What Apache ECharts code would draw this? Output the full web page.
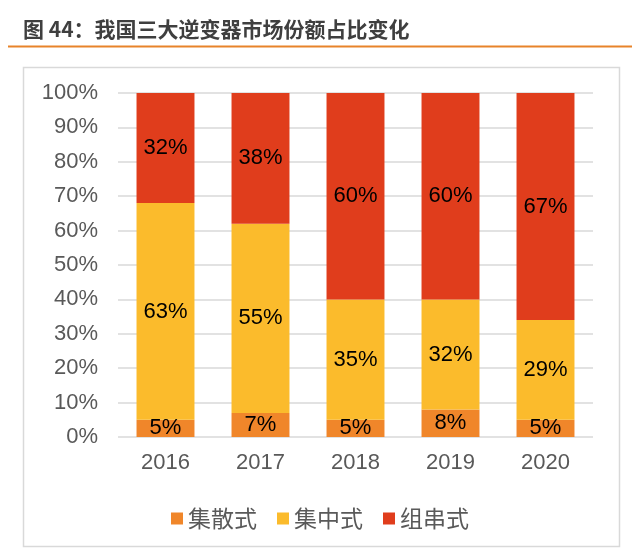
<!DOCTYPE html>
<html>
<head>
<meta charset="utf-8">
<script src="https://cdn.jsdelivr.net/npm/echarts@6/dist/echarts.min.js"></script>
<style>
html, body { margin: 0; padding: 0; background: #fff; }
#chart { width: 640px; height: 555px; }
</style>
</head>
<body>
<div id="chart"></div>
<script>
var years = ['2016', '2017', '2018', '2019', '2020'];
var jisan = [5, 7, 5, 8, 5];        // 集散式
var jizhong = [63, 55, 35, 32, 29]; // 集中式
var zuchuan = [32, 38, 60, 60, 67]; // 组串式
var yTicks = [0, 10, 20, 30, 40, 50, 60, 70, 80, 90, 100];

var chart = echarts.init(document.getElementById('chart'));

var labelStyle = {
    show: true,
    position: 'inside',
    color: '#000',
    fontSize: 22,
    fontFamily: 'Liberation Sans, Arial, sans-serif',
    formatter: '{c}%'
};

var option = {
    backgroundColor: '#fff',
    animation: false,
    title: {
        text: '图 44：我国三大逆变器市场份额占比变化',
        left: 18,
        top: 14,
        textStyle: {
            color: '#3f3f3f',
            fontSize: 21,
            fontWeight: 'bold',
            fontFamily: 'Noto Sans CJK SC'
        }
    },
    graphic: [
        {
            type: 'line',
            shape: { x1: 8, y1: 46.5, x2: 632, y2: 46.5 },
            style: { stroke: '#e8832a', lineWidth: 2 }
        },
        {
            type: 'rect',
            shape: { x: 23.5, y: 67.5, width: 596, height: 479 },
            style: { fill: 'none', stroke: '#d9d9d9', lineWidth: 1.5 }
        }
    ],
    legend: {
        bottom: 20,
        left: 'center',
        itemWidth: 12,
        itemHeight: 12,
        itemGap: 20,
        icon: 'rect',
        textStyle: {
            color: '#595959',
            fontSize: 23,
            fontFamily: 'Noto Sans CJK SC'
        },
        data: ['集散式', '集中式', '组串式']
    },
    grid: {
        left: 118,
        right: 47,
        top: 93,
        bottom: 118
    },
    xAxis: {
        type: 'category',
        data: years,
        axisLine: { show: false },
        axisTick: { show: false },
        axisLabel: {
            color: '#595959',
            fontSize: 22,
            margin: 15,
            fontFamily: 'Liberation Sans, Arial, sans-serif'
        }
    },
    yAxis: {
        type: 'value',
        min: yTicks[0],
        max: yTicks[yTicks.length - 1],
        interval: 10,
        axisLine: { show: false },
        axisTick: { show: false },
        axisLabel: {
            color: '#595959',
            fontSize: 22,
            margin: 20,
            fontFamily: 'Liberation Sans, Arial, sans-serif',
            formatter: '{value}%'
        },
        splitLine: { lineStyle: { color: '#d9d9d9', width: 1.5 } }
    },
    series: [
        {
            name: '集散式',
            type: 'bar',
            stack: 'total',
            barWidth: '61%',
            data: jisan,
            itemStyle: { color: '#f0862a' },
            label: labelStyle
        },
        {
            name: '集中式',
            type: 'bar',
            stack: 'total',
            data: jizhong,
            itemStyle: { color: '#fbbb2c' },
            label: labelStyle
        },
        {
            name: '组串式',
            type: 'bar',
            stack: 'total',
            data: zuchuan,
            itemStyle: { color: '#e03d1c' },
            label: labelStyle
        }
    ]
};

chart.setOption(option);
</script>
</body>
</html>
